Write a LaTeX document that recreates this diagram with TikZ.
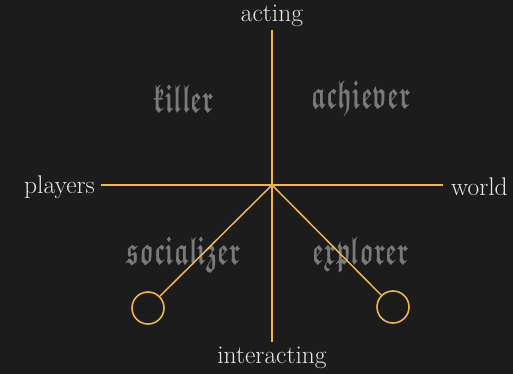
\documentclass[tikz,border=0pt]{standalone}
\usepackage{unicode-math}
\setmathfont{Latin Modern Math}
\definecolor{bg}{HTML}{1C1C1C}
\definecolor{axis}{HTML}{F0B44C}
\definecolor{lab}{HTML}{E6E6E6}
\definecolor{quad}{HTML}{7A7A7A}
\newcommand{\qfrak}[1]{\scalebox{0.68}[1.12]{$\mathbffrak{#1}$}}
\begin{document}
\begin{tikzpicture}[x=1pt,y=-1pt,
  axisline/.style={draw=axis,line width=1.5pt},
  axislabel/.style={text=lab,font=\fontsize{25.5}{30}\selectfont,inner sep=0pt},
  quadlabel/.style={text=quad,font=\fontsize{36}{40}\selectfont,inner sep=0pt},
  endcircle/.style={circle,draw=axis,line width=1.6pt,minimum size=32pt,inner sep=0pt}]
\fill[bg] (0,0) rectangle (513,374);
\useasboundingbox (0,0) rectangle (513,374);
\coordinate (c) at (272,185);
\coordinate (top) at (272,30);
\coordinate (bot) at (272,342);
\coordinate (lft) at (101,185);
\coordinate (rgt) at (443,185);
\node[quadlabel] (killer) at (184,99) {\qfrak{killer}};
\node[quadlabel] (achiever) at (361,99) {\qfrak{achiever}};
\node[quadlabel] (socializer) at (184,255) {\qfrak{socializer}};
\node[quadlabel] (explorer) at (361,255) {\qfrak{explorer}};
\node[axislabel] (acting) at (272,16) {acting};
\node[axislabel] (interacting) at (272,358) {interacting};
\node[axislabel,anchor=east] (players) at (95,187) {players};
\node[axislabel,anchor=west] (world) at (451,187) {world};
\node[endcircle] (sc) at (148,308) {};
\node[endcircle] (ec) at (393,307) {};
\draw[axisline] (top) -- (bot);
\draw[axisline] (lft) -- (rgt);
\draw[axisline] (c) -- (sc);
\draw[axisline] (c) -- (ec);
\end{tikzpicture}
\end{document}
